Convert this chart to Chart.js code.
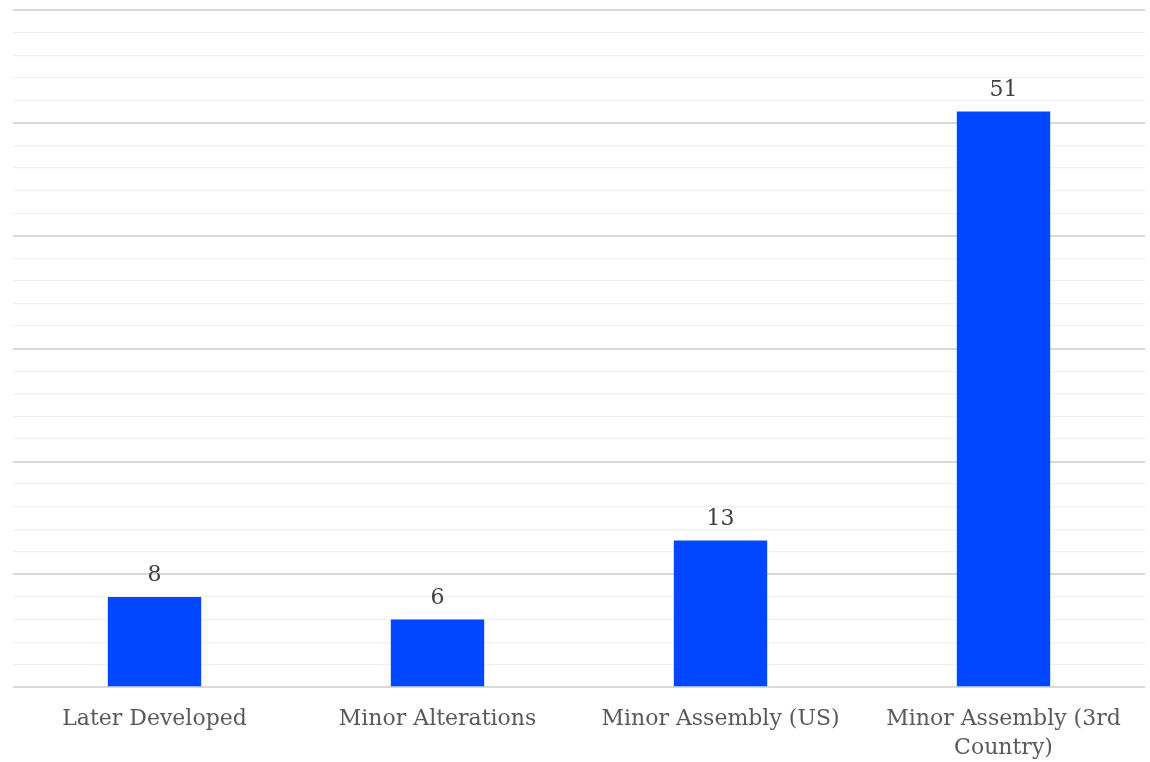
<!DOCTYPE html>
<html lang="en">
<head>
    <meta charset="UTF-8">
    <title>Bar chart</title>
    <script src="https://cdn.jsdelivr.net/npm/chart.js"></script>
    <style>
        body { margin: 0; background: #fff; }
        #wrap { width: 1150px; height: 762px; position: relative; }
    </style>
</head>
<body>
    <div id="wrap"><canvas id="barChart"></canvas></div>

    <script>
        const categories = [
            "Later Developed",
            "Minor Alterations",
            "Minor Assembly (US)",
            ["Minor Assembly (3rd", "Country)"]
        ];
        const counts = [8, 6, 13, 51];
        const yMax = 60;
        const yStep = 2;

        const fontFamily = "'DejaVu Serif', 'Liberation Serif', serif";

        // etiquetas de valor sobre cada barra
        const valueLabels = {
            id: "valueLabels",
            afterDatasetsDraw(chart) {
                const ctx = chart.ctx;
                const meta = chart.getDatasetMeta(0);
                ctx.save();
                ctx.font = "22px " + fontFamily;
                ctx.fillStyle = "#404040";
                ctx.textAlign = "center";
                ctx.textBaseline = "alphabetic";
                meta.data.forEach((bar, i) => {
                    ctx.fillText(String(counts[i]), bar.x, bar.y - 16);
                });
                ctx.restore();
            }
        };

        new Chart(document.getElementById("barChart").getContext("2d"), {
            type: "bar",
            data: {
                labels: categories,
                datasets: [{
                    data: counts,
                    backgroundColor: "#0047FF",
                    barPercentage: 0.33,
                    categoryPercentage: 1
                }]
            },
            options: {
                responsive: true,
                maintainAspectRatio: false,
                animation: false,
                layout: { padding: { left: 13, right: 5, top: 10, bottom: -10 } },
                plugins: { legend: { display: false }, tooltip: { enabled: false } },
                scales: {
                    x: {
                        grid: { display: false },
                        border: { display: false },
                        ticks: {
                            color: "#595959",
                            font: { family: fontFamily, size: 22, lineHeight: 1.333 },
                            padding: 9,
                            maxRotation: 0,
                            autoSkip: false
                        }
                    },
                    y: {
                        min: 0,
                        max: yMax,
                        border: { display: false },
                        ticks: { display: false, stepSize: yStep },
                        grid: {
                            drawTicks: false,
                            color: c => c.tick.value % 10 === 0 ? "#d9d9d9" : "#f0f0f0",
                            lineWidth: c => c.tick.value % 10 === 0 ? 2 : 1.3
                        }
                    }
                }
            },
            plugins: [valueLabels]
        });
    </script>
</body>
</html>
